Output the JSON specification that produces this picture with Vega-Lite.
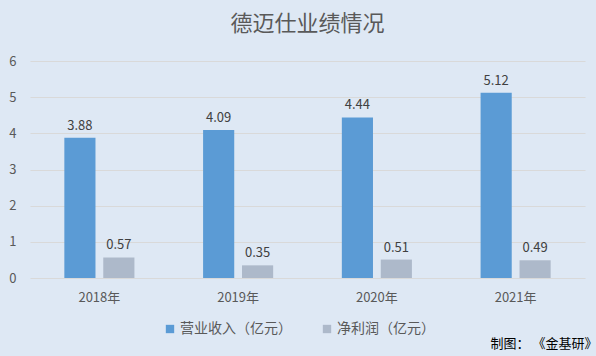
{
  "$schema": "https://vega.github.io/schema/vega-lite/v6.json",
  "autosize": "none",
  "width": 555,
  "height": 217,
  "padding": {"left": 30, "top": 61, "right": 11, "bottom": 78},
  "background": "#dee8f4",
  "config": {
    "view": {"stroke": null},
    "font": "Noto Sans CJK SC"
  },
  "title": {
    "text": "德迈仕业绩情况",
    "fontSize": 22,
    "fontWeight": "normal",
    "color": "#595959",
    "anchor": "middle",
    "offset": 19
  },
  "data": {
    "values": [
      {"year": "2018年", "series": "营业收入（亿元）", "value": 3.88},
      {"year": "2018年", "series": "净利润（亿元）", "value": 0.57},
      {"year": "2019年", "series": "营业收入（亿元）", "value": 4.09},
      {"year": "2019年", "series": "净利润（亿元）", "value": 0.35},
      {"year": "2020年", "series": "营业收入（亿元）", "value": 4.44},
      {"year": "2020年", "series": "净利润（亿元）", "value": 0.51},
      {"year": "2021年", "series": "营业收入（亿元）", "value": 5.12},
      {"year": "2021年", "series": "净利润（亿元）", "value": 0.49}
    ]
  },
  "encoding": {
    "x": {
      "field": "year",
      "type": "nominal",
      "scale": {"paddingInner": 0.495, "paddingOuter": 0.2475},
      "axis": {
        "labelAngle": 0,
        "domain": false,
        "ticks": false,
        "labelFontSize": 13,
        "labelColor": "#595959",
        "labelPadding": 13,
        "title": "制图： 《金基研》",
        "titleFontSize": 13,
        "titleFontWeight": "normal",
        "titleColor": "#000000",
        "titleAnchor": "start",
        "titleAlign": "left",
        "titleBaseline": "middle",
        "titleX": 460,
        "titleY": 65
      }
    },
    "xOffset": {
      "field": "series",
      "type": "nominal",
      "sort": ["营业收入（亿元）", "净利润（亿元）"],
      "scale": {"paddingInner": 0.2}
    },
    "y": {
      "field": "value",
      "type": "quantitative",
      "scale": {"domain": [0, 6]},
      "axis": {
        "values": [0, 1, 2, 3, 4, 5, 6],
        "title": null,
        "domain": false,
        "ticks": false,
        "labelFontSize": 13,
        "labelColor": "#595959",
        "labelPadding": 14,
        "gridColor": "#d9d9d9",
        "gridWidth": 1
      }
    }
  },
  "layer": [
    {
      "mark": {"type": "bar"},
      "encoding": {
        "color": {
          "field": "series",
          "type": "nominal",
          "sort": ["营业收入（亿元）", "净利润（亿元）"],
          "scale": {"range": ["#5b9bd5", "#adb9ca"]},
          "legend": {
            "title": null,
            "orient": "none",
            "direction": "horizontal",
            "legendX": 133,
            "legendY": 261,
            "symbolType": "square",
            "symbolSize": 70,
            "symbolStrokeWidth": 0,
            "labelFontSize": 14,
            "labelColor": "#595959",
            "columnPadding": 28,
            "labelOffset": 3
          }
        }
      }
    },
    {
      "mark": {"type": "text", "baseline": "bottom", "dy": -5, "fontSize": 13, "color": "#404040"},
      "encoding": {
        "text": {"field": "value", "type": "quantitative", "format": ".2f"}
      }
    }
  ]
}
